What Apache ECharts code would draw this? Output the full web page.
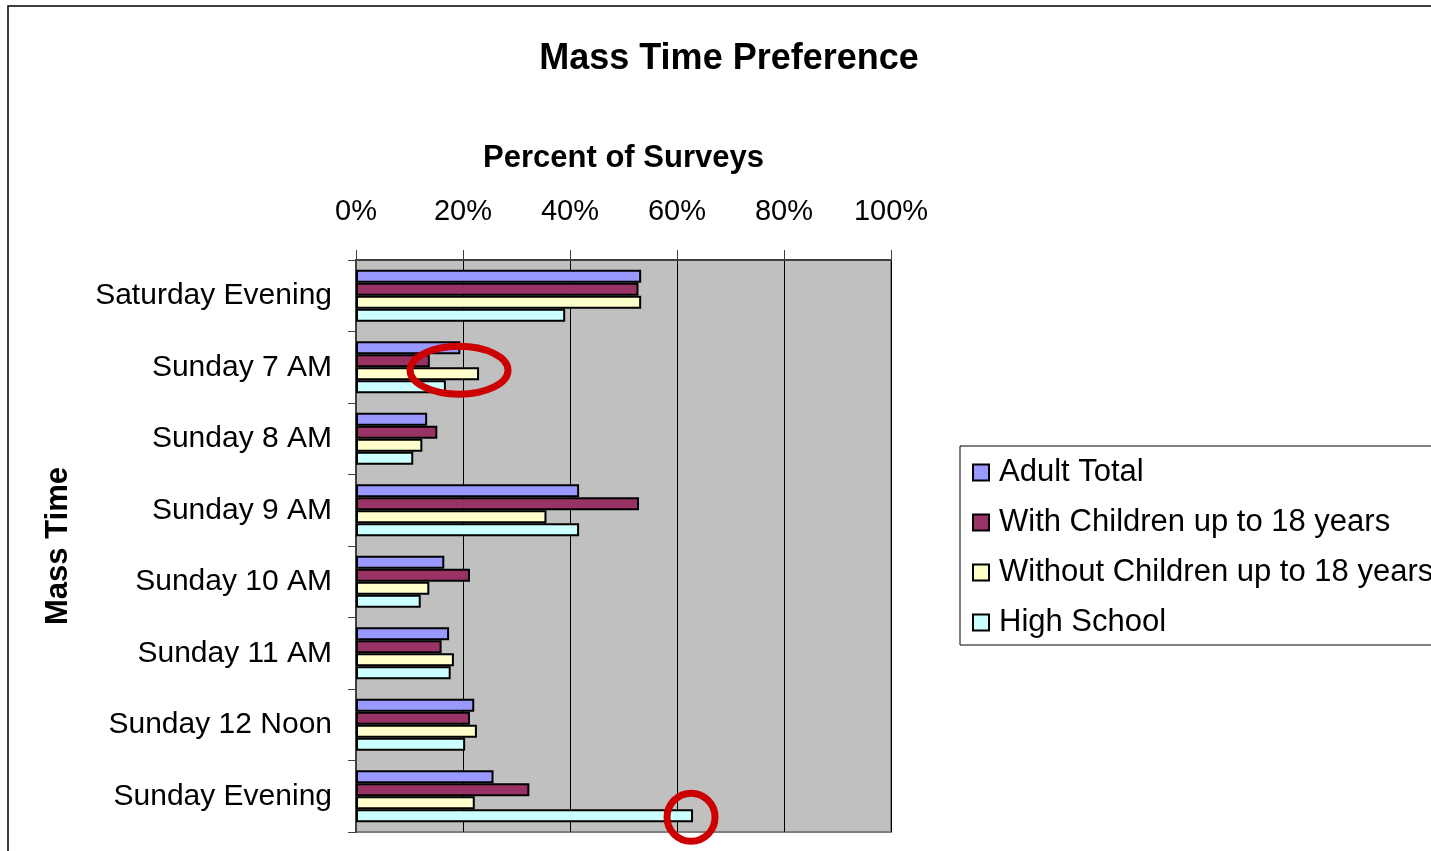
<!DOCTYPE html>
<html>
<head>
<meta charset="utf-8">
<title>Mass Time Preference</title>
<script src="https://cdn.jsdelivr.net/npm/echarts@6/dist/echarts.min.js"></script>
<style>
  html, body { margin: 0; padding: 0; background: #fff; }
  #chart { width: 1431px; height: 851px; }
</style>
</head>
<body>
<div id="chart"></div>
<script>
// mass times, top to bottom
const massTimes = ['Saturday Evening', 'Sunday 7 AM', 'Sunday 8 AM', 'Sunday 9 AM',
  'Sunday 10 AM', 'Sunday 11 AM', 'Sunday 12 Noon', 'Sunday Evening'];

// percent of surveys
const adultTotal      = [53.3, 19.5, 13.3, 41.7, 16.5, 17.4, 22.1, 25.7];
const withChildren    = [52.8, 13.8, 15.2, 52.9, 21.3, 16.0, 21.3, 32.4];
const withoutChildren = [53.3, 23.0, 12.4, 35.6, 13.7, 18.3, 22.6, 22.2];
const highSchool      = [39.1, 16.8, 10.7, 41.7, 12.1, 17.7, 20.4, 63.0];

const seriesNames = ['Adult Total', 'With Children up to 18 years',
  'Without Children up to 18 years', 'High School'];
const seriesColors = ['#9999ff', '#993366', '#ffffcc', '#ccffff'];
const seriesData = [adultTotal, withChildren, withoutChildren, highSchool];

const FONT = 'Liberation Sans, Arial, sans-serif';

let chart = echarts.init(document.getElementById('chart'));

let option = {
  animation: false,
  textStyle: { fontFamily: FONT },
  title: {
    text: 'Mass Time Preference',
    left: 724,
    top: 36,
    textAlign: 'center',
    textStyle: { fontFamily: FONT, fontSize: 36, fontWeight: 'bold', color: '#000' }
  },
  legend: {
    orient: 'vertical',
    left: 960,
    top: 446,
    width: 520,
    padding: [11, 40, 7, 12],
    itemGap: 19,
    itemWidth: 16,
    itemHeight: 16,
    borderColor: '#000',
    borderWidth: 1,
    backgroundColor: '#fff',
    textStyle: { fontFamily: FONT, fontSize: 31, color: '#000', padding: [0, 0, 0, 5] },
    data: seriesNames.map(n => ({ name: n, icon: 'rect' }))
  },
  grid: {
    left: 356,
    right: 1431 - 891,
    top: 260,
    bottom: 851 - 832,
    show: true,
    backgroundColor: '#c0c0c0',
    borderColor: '#808080',
    borderWidth: 2
  },
  xAxis: {
    type: 'value',
    position: 'top',
    min: 0,
    max: 100,
    interval: 20,
    name: 'Percent of Surveys',
    nameLocation: 'middle',
    nameGap: 86,
    nameTextStyle: { fontFamily: FONT, fontSize: 31, fontWeight: 'bold', color: '#000' },
    axisLine: { show: true, lineStyle: { color: '#404040', width: 2 } },
    axisTick: { show: true, length: 10, lineStyle: { color: '#404040', width: 1 } },
    axisLabel: {
      formatter: '{value}%',
      margin: 34,
      fontFamily: FONT,
      fontSize: 29,
      color: '#000'
    },
    splitLine: { show: true, lineStyle: { color: '#000', width: 1 } }
  },
  yAxis: {
    type: 'category',
    inverse: true,
    data: massTimes,
    name: 'Mass Time',
    nameLocation: 'middle',
    nameGap: 282,
    nameRotate: 90,
    nameTextStyle: { fontFamily: FONT, fontSize: 31, fontWeight: 'bold', color: '#000' },
    axisLine: { show: true, lineStyle: { color: '#404040', width: 2 } },
    axisTick: { show: true, length: 8, lineStyle: { color: '#404040', width: 1 } },
    axisLabel: { margin: 24, fontFamily: FONT, fontSize: 30, color: '#000' }
  },
  series: seriesNames.map((name, i) => ({
    name: name,
    type: 'bar',
    data: seriesData[i],
    barWidth: 13,
    barGap: '0%',
    itemStyle: { color: seriesColors[i], borderColor: '#000', borderWidth: 2 }
  }))
};

chart.setOption(option);

// red rings drawn on the ends of two highlighted bars
const p1 = chart.convertToPixel({ seriesIndex: 2 }, [withoutChildren[1], massTimes[1]]);
const p2 = chart.convertToPixel({ seriesIndex: 3 }, [highSchool[7], massTimes[7]]);

chart.setOption({
  graphic: [
    {
      type: 'rect',
      shape: { x: 8, y: 6, width: 1500, height: 900 },
      style: { fill: 'none', stroke: '#000', lineWidth: 1.5 },
      silent: true,
      z: -1
    },
    {
      type: 'ellipse',
      shape: { cx: p1[0] - 20, cy: p1[1] + 3, rx: 49, ry: 24 },
      style: { fill: 'none', stroke: '#cc0000', lineWidth: 7 },
      z: 100
    },
    {
      type: 'circle',
      shape: { cx: p2[0] - 2, cy: p2[1] + 21, r: 24 },
      style: { fill: 'none', stroke: '#cc0000', lineWidth: 7 },
      z: 100
    }
  ]
});

window.addEventListener('resize', () => {
  chart.resize();
});
</script>
</body>
</html>
